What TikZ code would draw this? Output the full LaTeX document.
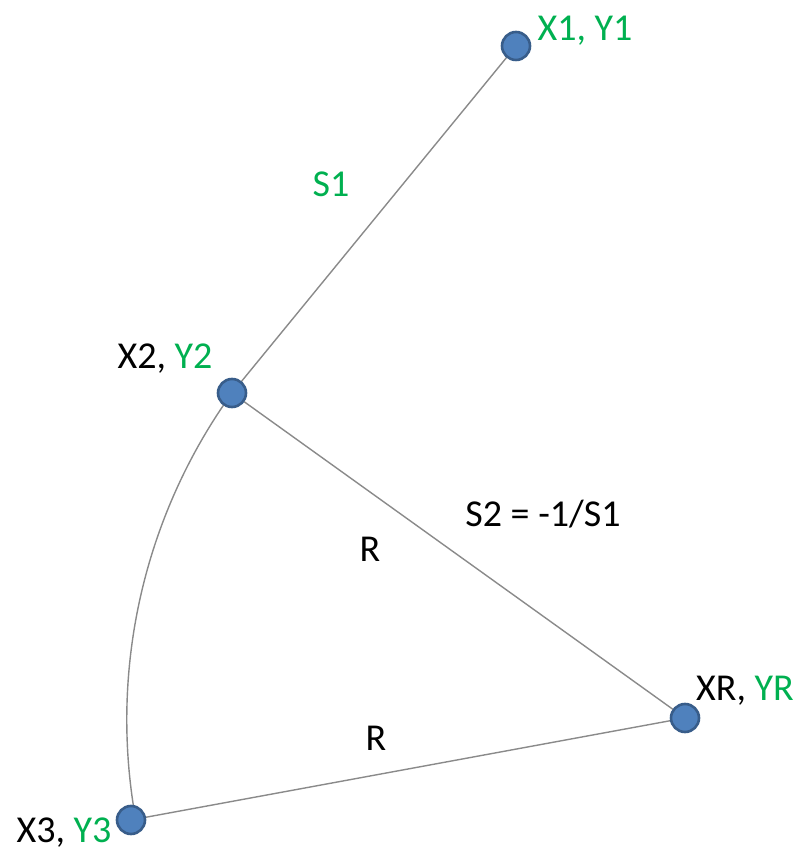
\documentclass[tikz,border=0pt]{standalone}
\usepackage{fontspec}
\setmainfont{Carlito}
\usepackage{xcolor}
\definecolor{ptfill}{HTML}{4F81BD}
\definecolor{ptdraw}{HTML}{385D8A}
\definecolor{lblgreen}{HTML}{00B050}
\definecolor{linegray}{HTML}{8A8A8A}
\tikzset{
  dot/.style={circle,fill=ptfill,draw=ptdraw,line width=1.3pt,minimum size=14pt,inner sep=0pt},
  seg/.style={draw=linegray,line width=0.7pt},
  lbl/.style={font=\fontsize{19}{23}\selectfont,inner sep=0pt}
}
\begin{document}
\begin{tikzpicture}[x=0.5pt,y=0.5pt]
\useasboundingbox (0,0) rectangle (801,857);
% points
\coordinate (c1) at (516,811);
\coordinate (c2) at (232,464);
\coordinate (cr) at (685,139);
\coordinate (c3) at (131,37);
% segments and arc
\draw[seg] (c1) -- (c2);
\draw[seg] (c2) -- (cr);
\draw[seg] (cr) -- (c3);
\draw[seg] (c2) arc[start angle=144.3,end angle=190.4,radius=560];
% dots
\node[dot] (p1) at (c1) {};
\node[dot] (p2) at (c2) {};
\node[dot] (pr) at (cr) {};
\node[dot] (p3) at (c3) {};
% labels
\node[lbl,text=lblgreen] (l1) at (585,826) {X1, Y1};
\node[lbl,text=lblgreen] (ls1) at (331,673) {S1};
\node[lbl] (l2) at (165,498) {X2, \textcolor{lblgreen}{Y2}};
\node[lbl] (ls2) at (543,343) {S2 = -1/S1};
\node[lbl] (lr1) at (370,308) {R};
\node[lbl] (lr) at (745,166) {XR, \textcolor{lblgreen}{YR}};
\node[lbl] (lr2) at (376,119) {R};
\node[lbl] (l3) at (64,24) {X3, \textcolor{lblgreen}{Y3}};
\end{tikzpicture}
\end{document}
